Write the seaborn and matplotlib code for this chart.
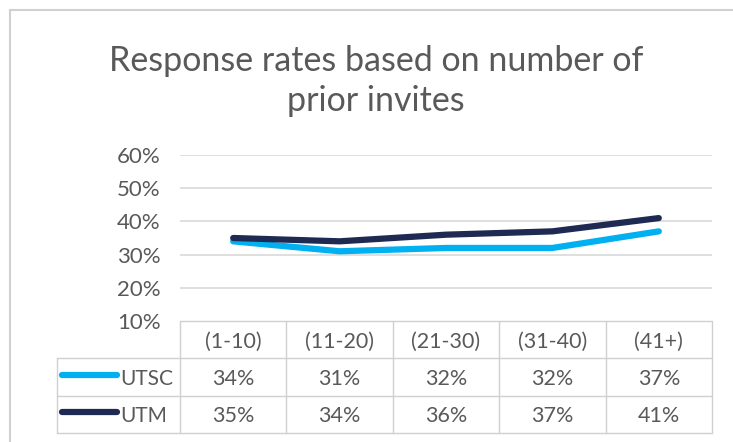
import matplotlib
matplotlib.use("Agg")
import matplotlib.pyplot as plt
import seaborn as sns
import pandas as pd
from matplotlib.lines import Line2D

categories = ["(1-10)", "(11-20)", "(21-30)", "(31-40)", "(41+)"]
utsc = [0.34, 0.31, 0.32, 0.32, 0.37]
utm = [0.35, 0.34, 0.36, 0.37, 0.41]
series_names = ["UTSC", "UTM"]
colors = {"UTSC": "#00B0F0", "UTM": "#1F2A52"}
title = "Response rates based on number of\nprior invites"
yticks = [0.1, 0.2, 0.3, 0.4, 0.5, 0.6]

sns.set_theme(style="white")
plt.rcParams["font.family"] = ["Lato", "DejaVu Sans"]
text_color = "#595959"
grid_color = "#D9D9D9"

W, H = 733, 442
fig = plt.figure(figsize=(W / 100, H / 100), dpi=100)

def fx(px):
    return px / W

def fy(py):
    return 1 - py / H

left, right, top, bottom = 180, 712, 155, 321
ax = fig.add_axes([fx(left), fy(bottom), fx(right) - fx(left), fy(top) - fy(bottom)])

df = pd.DataFrame({
    "x": list(range(len(categories))) * 2,
    "value": utsc + utm,
    "series": [series_names[0]] * len(categories) + [series_names[1]] * len(categories),
})
sns.lineplot(data=df, x="x", y="value", hue="series", palette=colors, linewidth=4.5,
             ax=ax, legend=False, solid_capstyle="round", hue_order=series_names)

ax.set_xlim(-0.5, len(categories) - 0.5)
ax.set_ylim(0.1, 0.6)
ax.set_yticks(yticks)
ax.set_yticklabels([f"{int(round(t * 100))}%" for t in yticks], color=text_color, fontsize=16)
ax.tick_params(axis="y", length=0, pad=14)
ax.set_xticks([])
ax.set_xlabel("")
ax.set_ylabel("")
for y in yticks[1:]:
    ax.axhline(y, color=grid_color, lw=1.2, zorder=0)
for s in ax.spines.values():
    s.set_visible(False)

# data table axes
tb_top, tb_bottom = 321, 433
tax = fig.add_axes([fx(left), fy(tb_bottom), fx(right) - fx(left), fy(tb_top) - fy(tb_bottom)])
tax.set_xlim(-0.5, len(categories) - 0.5)
tax.set_ylim(3, 0)
tax.axis("off")
col_w = (right - left) / len(categories)
lab_left = -0.5 - (left - 57) / col_w
lc = "#D0D0D0"
kw = dict(color=lc, lw=1.0, clip_on=False)
tax.plot([-0.5, len(categories) - 0.5], [0, 0], **kw)
for yv in [1, 2, 3]:
    tax.plot([lab_left, len(categories) - 0.5], [yv, yv], **kw)
for i in range(len(categories) + 1):
    tax.plot([i - 0.5, i - 0.5], [0, 3], **kw)
tax.plot([lab_left, lab_left], [1, 3], **kw)

for i, c in enumerate(categories):
    tax.text(i, 0.55, c, ha="center", va="center", color=text_color, fontsize=15.5)
for r, (name, vals) in enumerate(zip(series_names, [utsc, utm])):
    yv = r + 1.55
    for i, v in enumerate(vals):
        tax.text(i, yv, f"{int(round(v * 100))}%", ha="center", va="center",
                 color=text_color, fontsize=15.5)
    tax.text(-0.5 - (left - 120) / col_w, yv, name, ha="left", va="center",
             color=text_color, fontsize=15)
    tax.plot([-0.5 - (left - 62) / col_w, -0.5 - (left - 117) / col_w], [yv - 0.1, yv - 0.1],
             color=colors[name], lw=4.5, solid_capstyle="round", clip_on=False)

fig.text(fx(376), fy(81), title, ha="center", va="center", color=text_color,
         fontsize=24.5, linespacing=1.3)

# chart frame
fig.add_artist(Line2D([fx(10), 1], [fy(10), fy(10)], color="#D0D0D0", lw=1.5))
fig.add_artist(Line2D([fx(10), fx(10)], [fy(10), 0], color="#D0D0D0", lw=1.5))

fig.savefig("out.png", dpi=100)
